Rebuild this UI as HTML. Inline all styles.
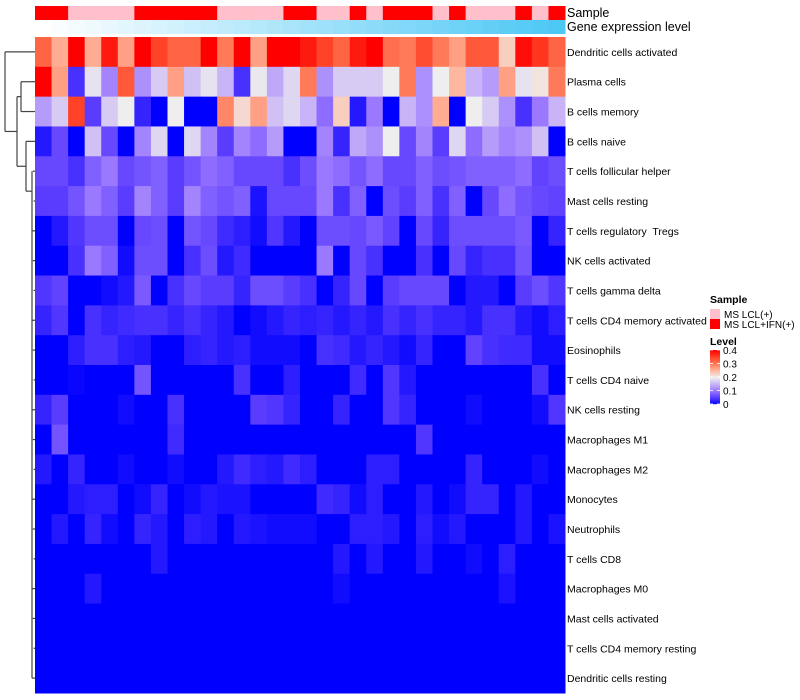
<!DOCTYPE html>
<html><head><meta charset="utf-8"><style>
body{margin:0;background:#fff;}
svg{display:block;font-family:"Liberation Sans",sans-serif;}
</style></head><body>
<svg id="chart" width="800" height="700" xmlns="http://www.w3.org/2000/svg"></svg>
<script>
const rowLabels=["Dendritic cells activated","Plasma cells","B cells memory","B cells naive","T cells follicular helper","Mast cells resting","T cells regulatory  Tregs","NK cells activated","T cells gamma delta","T cells CD4 memory activated","Eosinophils","T cells CD4 naive","NK cells resting","Macrophages M1","Macrophages M2","Monocytes","Neutrophils","T cells CD8","Macrophages M0","Mast cells activated","T cells CD4 memory resting","Dendritic cells resting"];
const sampleGroups=[1,1,0,0,0,0,1,1,1,1,1,0,0,0,0,1,1,0,0,1,0,1,1,1,0,1,0,0,0,1,0,1];
const geneExpr=[0,0.03,0.06,0.09,0.12,0.15,0.18,0.21,0.24,0.27,0.3,0.33,0.36,0.39,0.42,0.45,0.48,0.51,0.54,0.57,0.6,0.63,0.66,0.69,0.72,0.75,0.78,0.81,0.84,0.87,0.9,0.93];
const v0=[.32,.26,.4,.26,.38,.27,.4,.35,.32,.32,.4,.3,.4,.27,.4,.4,.38,.35,.32,.38,.4,.31,.3,.34,.3,.27,.33,.33,.23,.39,.36,.32];
const v1=[.4,.27,.04,.19,.11,.33,.12,.17,.27,.16,.19,.15,.04,.195,.14,.18,.3,.12,.17,.17,.17,.2,.3,.12,.2,.25,.15,.13,.27,.19,.21,.3];
const v2=[.13,.17,.35,.05,.17,.2,.03,0,.2,0,0,.29,.22,.27,.16,.18,.15,.09,.23,.02,.1,0,.15,.12,.26,0,.2,.17,.12,.04,.1,.15];
const v3=[.02,.06,0,.16,.06,0,.11,.18,0,.18,.11,.05,.11,.09,.13,0,0,.11,.03,.14,.12,.2,.06,.11,.05,.18,.09,.13,.11,.12,.16,0];
const v4=[.06,.06,.04,.08,.1,.06,.07,.08,.05,.07,.09,.08,.06,.06,.06,.04,.065,.1,.09,.07,.09,.06,.06,.08,.065,.07,.08,.08,.08,.09,.055,.065];
const v5=[.05,.05,.07,.1,.08,.05,.11,.08,.05,.11,.08,.07,.08,.015,.06,.06,.06,.1,.04,.08,0,.065,.05,.08,.04,.08,0,.06,.09,.07,.06,.055];
const v6=[0,.02,.045,.065,.065,0,.06,.065,0,.07,.06,.035,.025,.01,.045,.02,0,.065,.065,.06,.075,.055,0,.06,.03,.065,.065,.065,.065,.075,0,.03];
const v7=[0,0,.04,.1,.08,.01,.065,.065,0,.04,.065,.02,.035,0,0,0,0,.1,0,.06,.04,0,0,.04,0,.06,.03,.04,.04,.07,0,0];
const v8=[.045,.055,0,0,.01,.02,.075,0,.04,.06,.05,.05,.03,.065,.065,.05,.04,0,.03,.06,0,.05,.06,.06,.06,0,.02,.02,0,.05,.065,.045];
const v9=[.03,.045,0,.04,.03,.035,.04,.04,.03,.04,.03,.02,0,.01,.02,.03,.025,.03,.02,.03,.02,.04,.03,.04,.03,.03,.02,.04,.04,.02,.01,.025];
const v10=[0,0,.025,.04,.04,.025,.02,0,0,.025,.03,.02,.025,.01,.01,.01,0,.04,.035,.02,.03,.02,.01,.03,0,0,.055,.04,.035,.035,.01,.01];
const v11=[0,0,.005,0,0,0,.07,0,0,0,0,0,.04,0,0,.025,0,0,0,.035,0,.045,.02,0,0,0,0,0,0,0,.04,0];
const v12=[.03,.05,0,0,0,.01,0,0,.04,0,0,0,0,.05,.045,.03,0,0,.03,0,0,.045,.03,0,0,0,.01,0,0,0,.01,.045];
const v13=[0,.07,0,0,0,0,0,0,.035,0,0,0,0,0,0,0,0,0,0,0,0,0,0,.045,0,0,0,0,0,0,0,0];
const v14=[.02,0,.03,0,0,.01,0,0,.01,0,0,.02,.035,.025,.02,.035,.025,0,0,0,.025,.025,0,0,0,0,.03,0,0,0,.01,0];
const v15=[0,0,.02,.025,.025,0,.01,.03,0,.01,.02,.015,.015,0,0,0,0,.035,.03,.01,.025,0,0,.02,0,.01,.03,.03,0,.02,0,0];
const v16=[0,.02,0,.03,.01,0,.03,.02,0,.025,.02,0,.02,.015,.01,.01,.01,0,0,.025,.025,.02,0,.025,.01,.02,0,0,0,.02,0,.015];
const v17=[0,0,0,0,0,0,0,.02,0,0,0,0,0,0,0,0,0,0,.02,0,.02,0,0,.02,0,0,.01,0,.025,0,0,0];
const v18=[0,0,0,.02,0,0,0,0,0,0,0,0,0,0,0,0,0,0,.01,0,0,0,0,0,0,0,0,0,.015,0,0,0];
const v19=[0,0,0,0,0,0,0,0,0,0,0,0,0,0,0,0,0,0,0,0,0,0,0,0,0,0,0,0,0,0,0,0];
const v20=[0,0,0,0,0,0,0,0,0,0,0,0,0,0,0,0,0,0,0,0,0,0,0,0,0,0,0,0,0,0,0,0];
const v21=[0,0,0,0,0,0,0,0,0,0,0,0,0,0,0,0,0,0,0,0,0,0,0,0,0,0,0,0,0,0,0,0];
const values=[v0,v1,v2,v3,v4,v5,v6,v7,v8,v9,v10,v11,v12,v13,v14,v15,v16,v17,v18,v19,v20,v21];
const legendTicks=[0,0.1,0.2,0.3,0.4];

const NS="http://www.w3.org/2000/svg";
const svg=document.getElementById('chart');
const X0=35,X1=565,Y0=37,Y1=693;
const nC=sampleGroups.length,nR=rowLabels.length;
const cw=(X1-X0)/nC,rh=(Y1-Y0)/nR;
const xCol=i=>X0+i*cw, yRow=j=>Y0+j*rh;
const stops=[[0,[0,0,255]],[.05,[90,60,255]],[.1,[154,120,255]],[.15,[200,180,246]],[.2,[238,238,238]],[.25,[255,184,160]],[.3,[255,122,88]],[.35,[255,66,40]],[.4,[255,0,0]]];
function col(v){v=Math.max(0,Math.min(.4,v));for(let k=1;k<stops.length;k++){if(v<=stops[k][0]){const a=stops[k-1],b=stops[k],t=(v-a[0])/(b[0]-a[0]);const c=a[1].map((q,i)=>Math.round(q+(b[1][i]-q)*t));return `rgb(${c})`;}}return 'rgb(255,0,0)';}
function mk(tag,at,parent){const e=document.createElementNS(NS,tag);for(const k in at)e.setAttribute(k,at[k]);(parent||svg).appendChild(e);return e;}

sampleGroups.forEach((g,i)=>{const r=mk('rect',{x:xCol(i),y:6,width:cw+0.5,height:14,fill:g?'#FF0000':'#FFC0CB'});

});
geneExpr.forEach((g,i)=>{const c=[255+(77-255)*g/0.93,255+(200-255)*g/0.93,255+(245-255)*g/0.93].map(Math.round);
const r=mk('rect',{x:xCol(i),y:20,width:cw+0.5,height:14,fill:`rgb(${c})`});

});
let t=mk('text',{x:567,y:17,'font-size':12.5});t.textContent='Sample';

t=mk('text',{x:567,y:31,'font-size':12.5});t.textContent='Gene expression level';


values.forEach((row,j)=>row.forEach((v,i)=>{const r=mk('rect',{x:xCol(i),y:yRow(j),width:cw+0.5,height:rh+0.5,fill:col(v)});

}));
rowLabels.forEach((l,j)=>{const e=mk('text',{x:567,y:yRow(j)+rh/2+4,'font-size':10.5,style:'white-space:pre'});e.textContent=l;

});

const cy=j=>yRow(j)+rh/2;
const dg=mk('g',{stroke:'#444','stroke-width':1.2,fill:'none'});

function seg(x1,y1,x2,y2){mk('line',{x1,y1,x2,y2},dg);}
const yC=(cy(1)+cy(2))/2, yE=cy(4)+20, yD=(cy(3)+yE)/2, yB=(yC+yD)/2;
seg(5,cy(0),35,cy(0));seg(5,cy(0),5,yB);seg(5,yB,17,yB);
seg(17,yC,17,yD);seg(17,yC,21,yC);seg(17,yD,26,yD);
seg(21,cy(1),21,cy(2));seg(21,cy(1),35,cy(1));seg(21,cy(2),35,cy(2));
seg(26,cy(3),26,yE);seg(26,cy(3),35,cy(3));seg(26,yE,32,yE);
seg(32,cy(4),32,cy(21));
for(let j=4;j<nR;j++)seg(32+(j%3)*0.8,cy(j),35,cy(j));

t=mk('text',{x:710,y:303,'font-size':10.5,'font-weight':'bold'});t.textContent='Sample';

[['#FFC0CB','MS LCL(+)'],['#FF0000','MS LCL+IFN(+)']].forEach((d,k)=>{
const r=mk('rect',{x:710,y:309+k*10,width:10,height:10,fill:d[0]});

const tx=mk('text',{x:724,y:318+k*10,'font-size':10});tx.textContent=d[1];
});
t=mk('text',{x:710,y:345,'font-size':10.5,'font-weight':'bold'});t.textContent='Level';

const LB0=350,LB1=404;
for(let k=0;k<54;k++){const v=0.4*(1-k/54);const r=mk('rect',{x:710,y:LB0+k,width:10,height:1.2,fill:col(v)});
}
legendTicks.forEach(v=>{const y=LB1-(LB1-LB0)*v/0.4;
mk('line',{x1:710,x2:713,y1:y,y2:y,stroke:'#fff','stroke-width':0.8});
mk('line',{x1:717,x2:720,y1:y,y2:y,stroke:'#fff','stroke-width':0.8});
const tx=mk('text',{x:723,y:y+4,'font-size':10});tx.textContent=v===0?'0':v.toFixed(1);
});
</script>
</body></html>
